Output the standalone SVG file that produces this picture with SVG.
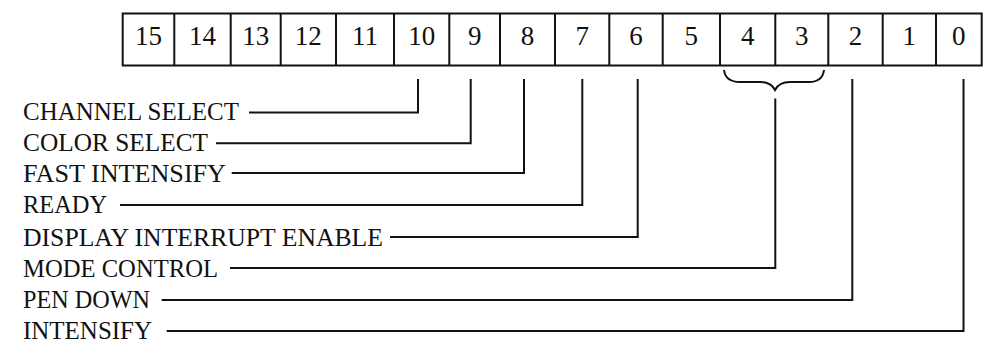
<svg xmlns="http://www.w3.org/2000/svg" width="983" height="342" viewBox="0 0 983 342">
<style>
.box{fill:#fff;stroke:#111;stroke-width:2}
.div{stroke:#111;stroke-width:2}
.num{font-family:"Liberation Serif",serif;font-size:27px;fill:#111;text-anchor:middle}
.lbl{font-family:"Liberation Serif",serif;font-size:25px;fill:#111}
.con{fill:none;stroke:#111;stroke-width:2}
</style>
<rect width="983" height="342" fill="#fff"/>
<g id="register">
<rect class="box" x="122.7" y="13.5" width="859" height="52"/>
<g class="div">
<line x1="174.3" y1="13.5" x2="174.3" y2="65.5"/>
<line x1="230.7" y1="13.5" x2="230.7" y2="65.5"/>
<line x1="280.7" y1="13.5" x2="280.7" y2="65.5"/>
<line x1="336" y1="13.5" x2="336" y2="65.5"/>
<line x1="394" y1="13.5" x2="394" y2="65.5"/>
<line x1="449.3" y1="13.5" x2="449.3" y2="65.5"/>
<line x1="500" y1="13.5" x2="500" y2="65.5"/>
<line x1="555" y1="13.5" x2="555" y2="65.5"/>
<line x1="609.3" y1="13.5" x2="609.3" y2="65.5"/>
<line x1="662.7" y1="13.5" x2="662.7" y2="65.5"/>
<line x1="720" y1="13.5" x2="720" y2="65.5"/>
<line x1="775.3" y1="13.5" x2="775.3" y2="65.5"/>
<line x1="828.3" y1="13.5" x2="828.3" y2="65.5"/>
<line x1="882.7" y1="13.5" x2="882.7" y2="65.5"/>
<line x1="936" y1="13.5" x2="936" y2="65.5"/>
</g>
<text class="num" x="148.5" y="45">15</text>
<text class="num" x="202.5" y="45">14</text>
<text class="num" x="255.7" y="45">13</text>
<text class="num" x="308.3" y="45">12</text>
<text class="num" x="365" y="45">11</text>
<text class="num" x="421.7" y="45">10</text>
<text class="num" x="474.7" y="45">9</text>
<text class="num" x="527.5" y="45">8</text>
<text class="num" x="582.2" y="45">7</text>
<text class="num" x="636" y="45">6</text>
<text class="num" x="691.3" y="45">5</text>
<text class="num" x="747.7" y="45">4</text>
<text class="num" x="801.8" y="45">3</text>
<text class="num" x="855.5" y="45">2</text>
<text class="num" x="909.3" y="45">1</text>
<text class="num" x="958.8" y="45">0</text>
</g>
<g id="brace">
<path class="con" d="M724,70 Q725.5,82 740,82 L760,82 Q771,82 775,90 Q779,82 790,82 L809,82 Q822.5,82 824,70"/>
</g>
<g id="label-channel-select"><text class="lbl" x="23" y="119.5" textLength="216" lengthAdjust="spacingAndGlyphs">CHANNEL SELECT</text></g>
<g id="label-color-select"><text class="lbl" x="23" y="151" textLength="185" lengthAdjust="spacingAndGlyphs">COLOR SELECT</text></g>
<g id="label-fast-intensify"><text class="lbl" x="23" y="181.7" textLength="203" lengthAdjust="spacingAndGlyphs">FAST INTENSIFY</text></g>
<g id="label-ready"><text class="lbl" x="23" y="213.3" textLength="84" lengthAdjust="spacingAndGlyphs">READY</text></g>
<g id="label-display-interrupt-enable"><text class="lbl" x="23" y="245.5" textLength="360" lengthAdjust="spacingAndGlyphs">DISPLAY INTERRUPT ENABLE</text></g>
<g id="label-mode-control"><text class="lbl" x="23" y="276.8" textLength="195" lengthAdjust="spacingAndGlyphs">MODE CONTROL</text></g>
<g id="label-pen-down"><text class="lbl" x="23" y="308" textLength="127" lengthAdjust="spacingAndGlyphs">PEN DOWN</text></g>
<g id="label-intensify"><text class="lbl" x="23" y="338.5" textLength="129" lengthAdjust="spacingAndGlyphs">INTENSIFY</text></g>
<g id="connectors">
<polyline class="con" points="249,112.5 418,112.5 418,79"/>
<polyline class="con" points="216,143.3 470.7,143.3 470.7,79"/>
<polyline class="con" points="231.7,173 524,173 524,79"/>
<polyline class="con" points="120,205 582.3,205 582.3,79"/>
<polyline class="con" points="390,237 637.7,237 637.7,79"/>
<polyline class="con" points="230,268 775.3,268 775.3,98.5"/>
<polyline class="con" points="161.7,300 852.3,300 852.3,79"/>
<polyline class="con" points="166.7,331 963.5,331 963.5,79"/>
</g>
</svg>
